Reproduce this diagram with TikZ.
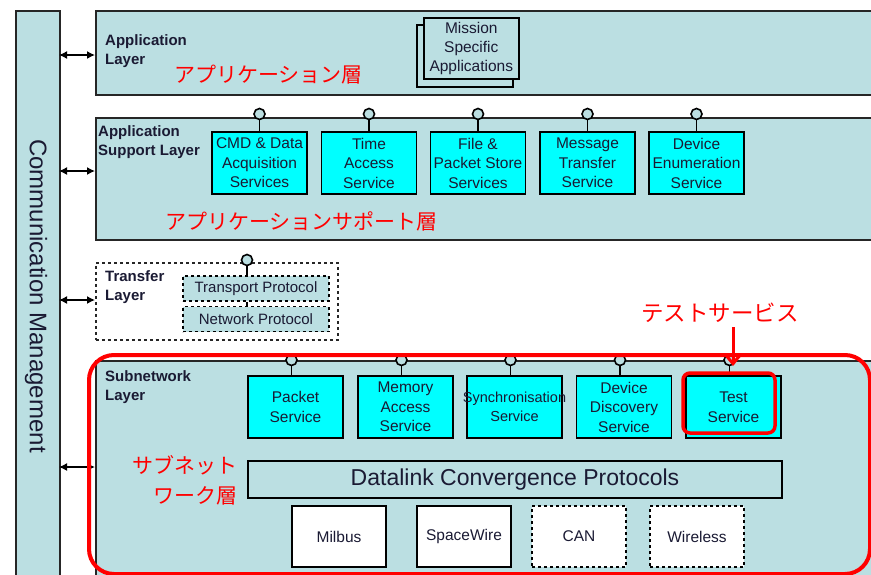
\documentclass[tikz,border=0pt]{standalone}
\usepackage{fontspec}
\setmainfont{Liberation Sans}
\newfontfamily\jpfont{Noto Sans CJK JP}
\usetikzlibrary{arrows.meta}
\definecolor{lb}{HTML}{BBDFE2}
\definecolor{cy}{HTML}{00FFFF}
\definecolor{rd}{HTML}{FF0000}
\definecolor{ink}{HTML}{1A1A33}
\newcommand\svcfont{\fontsize{15.5}{19.5}\selectfont}
\begin{document}
\begin{tikzpicture}[x=1pt,y=-1pt,
 layer/.style={draw=black!85, line width=1.6pt, fill=lb, anchor=north west, inner sep=0},
 svc/.style={draw=black, line width=1.8pt, fill=cy, minimum width=95pt, minimum height=62pt, align=center, inner sep=0, font=\svcfont, text=ink},
 phy/.style={draw=black, line width=1.8pt, fill=white, minimum width=94pt, minimum height=61pt, inner sep=0, font=\fontsize{15.5}{18}\selectfont, text=ink},
 proto/.style={draw=black, dashed, line width=1.6pt, fill=lb, minimum width=146pt, minimum height=25pt, inner sep=0, font=\fontsize{15}{18}\selectfont, text=ink},
 port/.style={circle, draw=black, line width=1.6pt, fill=lb, minimum size=11pt, inner sep=0},
 stem/.style={line width=1.6pt},
 biarrow/.style={{Latex[length=8pt,width=8pt]}-{Latex[length=8pt,width=8pt]}, line width=1.4pt},
 lbl/.style={font=\fontsize{15}{19}\selectfont\bfseries, align=left, anchor=west, inner sep=0, text=ink},
 jp/.style={text=rd, font=\jpfont\fontsize{21}{30}\selectfont, inner sep=0},
]
\useasboundingbox (0,0) rectangle (871,574);
\fill[white] (0,0) rectangle (871,574);

% communication management column
\node[layer, minimum width=44pt, minimum height=590pt] (comm) at (15,10) {};
\node[rotate=-90, font=\fontsize{24}{24}\selectfont, text=ink] (commtxt) at (36,296) {Communication Management};

% layers
\node[layer, minimum width=790pt, minimum height=84pt] (app) at (95,10) {};
\node[layer, minimum width=790pt, minimum height=122pt] (appsup) at (95,117) {};
\node[layer, dashed, fill=white, minimum width=242pt, minimum height=77pt] (trans) at (95,262) {};
\node[layer, minimum width=790pt, minimum height=230pt] (subnet) at (95,360) {};

% arrows
\coordinate (a1) at (59,55);
\coordinate (a2) at (59,171);
\coordinate (a3) at (59,300);
\coordinate (a4) at (59,467);
\draw[biarrow] (a1) -- (a1 -| app.west);
\draw[biarrow] (a2) -- (a2 -| appsup.west);
\draw[biarrow] (a3) -- (a3 -| trans.west);
\draw[biarrow] (a4) -- (a4 -| subnet.west);

% layer labels
\node[lbl] (lapp) at (105,51.5) {Application\\Layer};
\node[lbl] (lsup) at (98,142.5) {Application\\Support Layer};
\node[lbl] (ltr) at (105,287.5) {Transfer\\Layer};
\node[lbl] (lsub) at (105,387.5) {Subnetwork\\Layer};

% mission specific applications
\node[draw=black, line width=1.6pt, fill=lb, minimum width=96pt, minimum height=62pt, anchor=north west, inner sep=0] (msback) at (416,24) {};
\node[draw=black, line width=1.6pt, fill=lb, minimum width=95pt, minimum height=61pt, anchor=north west, inner sep=0, align=center, font=\fontsize{15.5}{19}\selectfont, text=ink] (ms) at (423,17) {Mission\\Specific\\Applications};

% application support services
\node[svc] (cmd) at (259.5,163) {CMD \& Data\\Acquisition\\Services};
\node[svc] (tas) at (369,163) {Time\\Access\\Service};
\node[svc] (fps) at (478,163) {File \&\\Packet Store\\Services};
\node[svc] (mts) at (587.5,163) {Message\\Transfer\\Service};
\node[svc] (des) at (696.5,163) {Device\\Enumeration\\Service};
\foreach \n in {cmd,tas,fps,mts,des}{
  \node[port] (p\n) at (\n.north |- 0,114) {};
  \draw[stem] (p\n.south) -- (\n.north);
}

% transfer layer
\node[proto] (tp) at (256,288.5) {Transport Protocol};
\node[proto] (np) at (256,319) {Network Protocol};
\node[port] (ptr) at (247,260) {};
\draw[stem] (ptr.south) -- (ptr.south |- tp.north);
\draw[stem] (ptr |- tp.south) -- (ptr |- np.north);

% subnetwork services
\node[svc] (pks) at (295.5,407) {Packet\\Service};
\node[svc] (mas) at (405.5,407) {Memory\\Access\\Service};
\node[svc, font=\fontsize{14.5}{19.5}\selectfont] (sys) at (514.5,407) {\makebox[92pt][c]{Synchronisation}\\Service};
\node[svc] (dds) at (624,407) {Device\\Discovery\\Service};
\node[svc] (tss) at (733.5,407) {Test\\Service};
\foreach \n in {pks,mas,sys,dds,tss}{
  \node[port] (p\n) at ([xshift=-4pt]\n.north |- 0,360) {};
  \draw[stem] (p\n.south) -- (p\n.south |- \n.north);
}

% datalink
\node[draw=black, line width=1.8pt, fill=lb, minimum width=534pt, minimum height=37pt, inner sep=0, font=\fontsize{23}{26}\selectfont, text=ink] (dl) at (515,479.5) {Datalink Convergence Protocols};
\node[phy] (mil) at (339,536.5) {Milbus};
\node[phy] (spw) at (464,536.5) {SpaceWire};
\node[phy, dashed] (can) at (579,536.5) {CAN};
\node[phy, dashed] (wls) at (697,536.5) {Wireless};

% japanese annotations
\node[jp] (japp) at (268.5,75) {アプリケーション層};
\node[jp] (jsup) at (301.5,221) {アプリケーションサポート層};
\node[jp, align=right, anchor=east] (jsub) at (238,480) {サブネット\\ワーク層};

% highlights
\node[draw=rd, line width=4pt, rounded corners=25pt, minimum width=781pt, minimum height=219pt, anchor=north west, inner sep=0] (hl) at (87,353) {};
\node[draw=rd, line width=3.5pt, rounded corners=7pt, minimum width=92pt, minimum height=60pt, inner sep=0] (testhl) at (729,403) {};
\node[jp, font=\jpfont\fontsize{22.5}{26}\selectfont] (testlbl) at (720,313) {テストサービス};
\coordinate (tip) at (733,366);
\draw[rd, line width=3pt, -{Straight Barb[length=9pt,width=15pt]}] (tip |- testlbl.south) ++(0,4) -- (tip);
\end{tikzpicture}
\end{document}
